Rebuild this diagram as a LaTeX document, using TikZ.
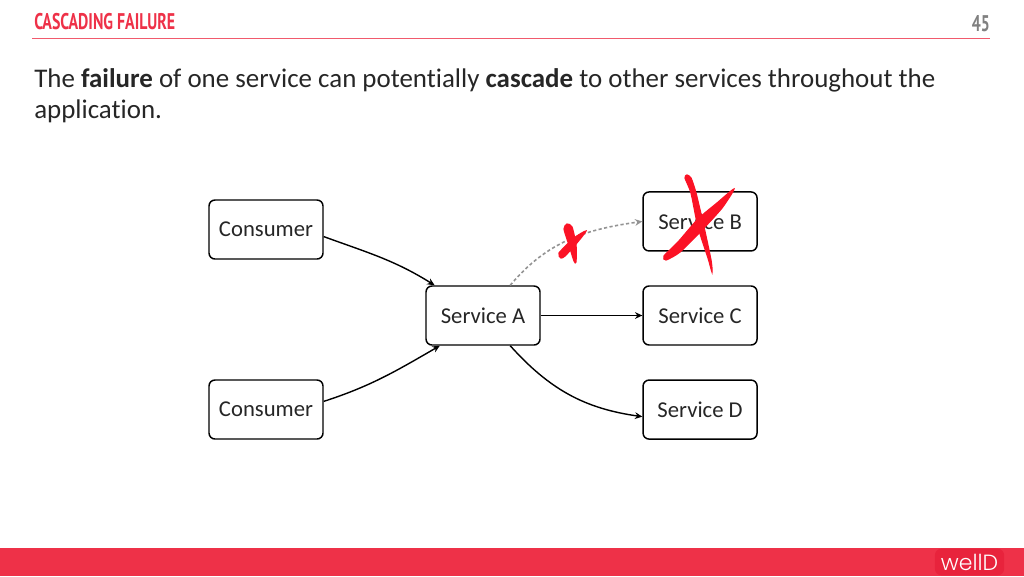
\documentclass[tikz,border=0pt]{standalone}
\usepackage{fontspec}
\usepackage{xcolor}
\setmainfont[RawFeature={-liga}]{Carlito}
\newfontfamily\titlefont[FakeStretch=0.7]{PT Sans}
\newfontfamily\logofont{Poppins Light}
\usetikzlibrary{positioning, calc, arrows.meta}
\definecolor{welred}{HTML}{EE3148}
\definecolor{logored}{HTML}{E8233C}
\definecolor{crossred}{HTML}{FB1225}
\begin{document}
\begin{tikzpicture}[
    x=0.75pt, y=-0.75pt,
    box/.style={rectangle, minimum width=85.5pt, minimum height=44.25pt, align=center, draw=black, line width=1.1pt, rounded corners=4.5pt, font=\fontsize{17}{18}\selectfont, text=black!85},
    arrow/.style={line width=1.05pt,-{Stealth[length=5.5pt,width=5pt]}},
    faded/.style={arrow, dash pattern=on 2.4pt off 1.8pt, gray!85, line width=1.2pt},
    stroke/.style={fill=crossred, draw=crossred, line width=0.9pt}
]
\useasboundingbox (0,0) rectangle (1024,576);
% header
\node (title) [anchor=base west, inner sep=0pt, text=welred, font=\titlefont\bfseries\fontsize{17}{18}\selectfont] at (34,29.5) {CASCADING FAILURE};
\node (page) [anchor=base east, inner sep=0pt, text=gray, font=\titlefont\bfseries\fontsize{17}{18}\selectfont] at (990,31) {45};
\draw [welred!80, line width=0.9pt] (32,38.5) -- (990,38.5);
\node (intro) [anchor=base west, inner sep=0pt, align=left, text=black!85, font=\fontsize{20.2}{23.25}\selectfont] at (34,118) {The \textbf{failure} of one service can potentially \textbf{cascade} to other services throughout the\\application.};
% boxes
\node (svca) [box] at (483,315.5) {Service A};
\node (cons1) [box] at (266,229.5) {Consumer};
\node (cons2) [box] at (266,409.5) {Consumer};
\node (svcc) [box, right=76.2pt of svca] {Service C};
\node (svcb) [box, above=25.2pt of svcc] {Service B};
\node (svcd) [box, below=25.2pt of svcc] {Service D};
% connectors
\draw [arrow] (cons1.-7) to[out=-20, in=148] (svca.148);
\draw [arrow] (cons2.8) to[out=18, in=210] (svca.215);
\draw [arrow] (svca.east) -- (svcc.west);
\draw [arrow] (svca.-48) to[out=-48, in=172] (svcd.187);
\draw [faded] (svca.48) to[out=50, in=188] (svcb.west);
% crosses
\path [stroke] plot[smooth cycle, tension=0.4] coordinates {(567,224) (564,229) (569,245) (574,261) (576,262) (576,245) (572,227)};
\path [stroke] plot[smooth cycle, tension=0.4] coordinates {(586,231) (574,238) (559,253) (561,258) (565,256) (576,244)};
\path [stroke] plot[smooth cycle, tension=0.4] coordinates {(687,175) (685,178) (691,193) (698,227) (708,258) (712,272) (711,260) (704,227) (696,193) (691,178)};
\path [stroke] plot[smooth cycle, tension=0.4] coordinates {(734,189) (717,203) (698,219) (678,242) (664,256) (666,260) (680,252) (702,230) (722,208)};
% footer
\fill [welred] (0,548) rectangle (1024,576);
\node (logo) [fill=logored, text=white, rounded corners=5pt, minimum width=52pt, minimum height=20pt, inner sep=0pt, font=\logofont\fontsize{16.5}{17}\selectfont] at (969.5,562) {wellD};
\end{tikzpicture}
\end{document}
